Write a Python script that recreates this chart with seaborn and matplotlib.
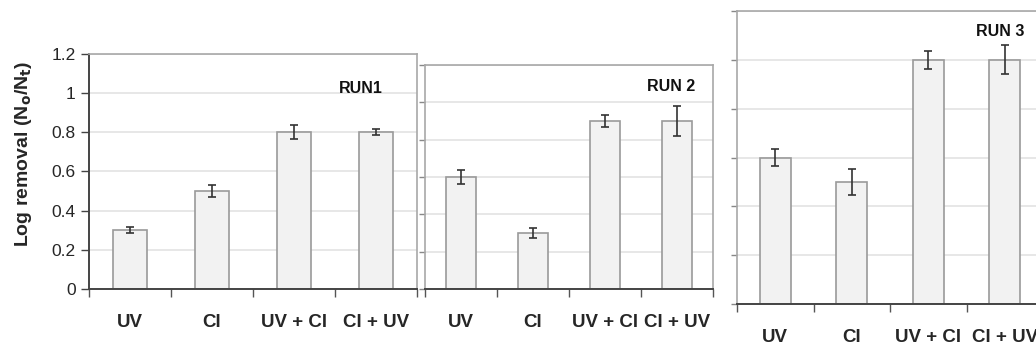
import pandas as pd
import numpy as np
import seaborn as sns
import matplotlib.pyplot as plt

# data
treatments = ["UV", "Cl", "UV + Cl", "Cl + UV"]
run1_vals = [0.30, 0.50, 0.80, 0.80]
run1_err = [0.015, 0.030, 0.035, 0.015]
run2_vals = [0.60, 0.30, 0.90, 0.90]
run2_err = [0.040, 0.028, 0.032, 0.080]
run3_vals = [0.60, 0.50, 1.00, 1.00]
run3_err = [0.033, 0.054, 0.037, 0.059]
run_labels = ["RUN1", "RUN 2", "RUN 3"]
yticks = [0, 0.2, 0.4, 0.6, 0.8, 1, 1.2]
ytick_labels = ["0", "0.2", "0.4", "0.6", "0.8", "1", "1.2"]

sns.set_theme(style="white")
plt.rcParams["font.family"] = ["Liberation Sans", "DejaVu Sans"]

fig = plt.figure(figsize=(10.36, 3.49), dpi=100)

# axes boxes (left, bottom, width, height) in figure fractions
boxes = [
    [0.0859, 0.1719, 0.3166, 0.6734],
    [0.4102, 0.1719, 0.2780, 0.6418],
    [0.7114, 0.1289, 0.2954, 0.8395],
]
runs = [(run1_vals, run1_err), (run2_vals, run2_err), (run3_vals, run3_err)]
label_pos = [(0.83, 0.855), (0.854, 0.906), (0.86, 0.93)]

for i, (box, (vals, errs)) in enumerate(zip(boxes, runs)):
    ax = fig.add_axes(box)
    df = pd.DataFrame({"treatment": treatments, "removal": vals})
    sns.barplot(data=df, x="treatment", y="removal", ax=ax, color="#f2f2f2",
                edgecolor="#9a9a9a", linewidth=1.2, width=0.41,
                errorbar=None, saturation=1, zorder=2)
    ax.errorbar(np.arange(len(vals)), vals, yerr=errs, fmt="none",
                ecolor="#333333", elinewidth=1.2, capsize=3, capthick=1.2,
                zorder=3)
    ax.set_ylim(0, 1.2)
    ax.set_xlim(-0.5, 3.5)
    ax.set_yticks(yticks)
    ax.yaxis.grid(True, color="#e3e3e3", linewidth=1.2, zorder=0)
    ax.set_axisbelow(True)
    ax.set_xlabel("")
    ax.set_ylabel("")
    ax.set_xticks([-0.5, 0.5, 1.5, 2.5, 3.5], minor=False)
    ax.set_xticklabels([])
    ax.set_xticks([0, 1, 2, 3], minor=True)
    ax.set_xticklabels(treatments, minor=True, fontsize=13.5, fontweight="bold")
    ax.tick_params(axis="x", which="major", direction="out", length=6,
                   width=1, color="#555555", bottom=True)
    ax.tick_params(axis="x", which="minor", length=0, pad=18, bottom=True)
    ax.tick_params(axis="y", direction="out", length=4, width=1,
                   color="#888888", left=True)
    for s in ["top", "right"]:
        ax.spines[s].set_color("#a8a8a8")
        ax.spines[s].set_linewidth(1.2)
    ax.spines["bottom"].set_color("#444444")
    ax.spines["bottom"].set_linewidth(1.4)
    if i == 0:
        ax.spines["left"].set_color("#444444")
        ax.spines["left"].set_linewidth(1.4)
        ax.set_yticklabels(ytick_labels, fontsize=12.5)
        ax.tick_params(axis="y", color="#444444", length=6)
        ax.set_ylabel(r"Log removal (N$_\mathbf{o}$/N$_\mathbf{t}$)",
                      fontsize=14, fontweight="bold")
        ax.yaxis.set_label_coords(-0.168, 0.574)
    else:
        ax.spines["left"].set_color("#a8a8a8")
        ax.spines["left"].set_linewidth(1.2)
        ax.set_yticklabels([])
    ax.text(label_pos[i][0], label_pos[i][1], run_labels[i],
            transform=ax.transAxes, fontsize=11.5, fontweight="bold",
            ha="center", va="center", color="#111111")

fig.savefig("out.png", dpi=100)
